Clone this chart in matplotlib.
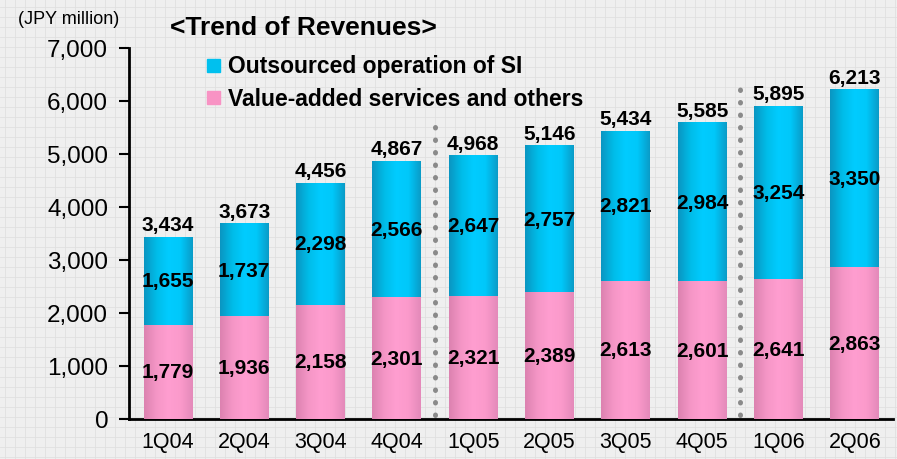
import numpy as np
import matplotlib
matplotlib.use("Agg")
import matplotlib.pyplot as plt
from matplotlib.colors import LinearSegmentedColormap

plt.rcParams['font.family'] = ['Liberation Sans', 'DejaVu Sans']

quarters = ['1Q04', '2Q04', '3Q04', '4Q04', '1Q05', '2Q05', '3Q05', '4Q05', '1Q06', '2Q06']
value_added = [1779, 1936, 2158, 2301, 2321, 2389, 2613, 2601, 2641, 2863]
outsourced = [1655, 1737, 2298, 2566, 2647, 2757, 2821, 2984, 3254, 3350]
totals = [3434, 3673, 4456, 4867, 4968, 5146, 5434, 5585, 5895, 6213]
yticks = [0, 1000, 2000, 3000, 4000, 5000, 6000, 7000]

W, H = 897, 460
fig = plt.figure(figsize=(W / 100, H / 100), dpi=100)
fig.patch.set_facecolor('#efefef')

# graph-paper background
bg = fig.add_axes([0, 0, 1, 1])
bg.set_xlim(0, W)
bg.set_ylim(H, 0)
bg.axis('off')
for g in np.arange(5, W, 10):
    bg.axvline(g, color='#e0e0e0', lw=0.6)
for g in np.arange(8, H, 10):
    bg.axhline(g, color='#e0e0e0', lw=0.6)

ax = fig.add_axes([129 / W, 1 - 420 / H, (893 - 129) / W, (420 - 49) / H])
ax.patch.set_alpha(0)

x = np.arange(len(quarters))
bw = 0.64
pink_cmap = LinearSegmentedColormap.from_list('p', ['#dc82b0', '#f596c6', '#ff9ed0', '#fb9acb', '#e48aba'])
cyan_cmap = LinearSegmentedColormap.from_list('c', ['#0a96c2', '#00bce8', '#00ccff', '#00c8fa', '#0a9cc8'])
grad = np.linspace(0, 1, 64).reshape(1, -1)

b1 = ax.bar(x, value_added, bw, color='#ff99cc', zorder=2)
b2 = ax.bar(x, outsourced, bw, bottom=value_added, color='#00ccff', zorder=2)
for bars, cmap in ((b1, pink_cmap), (b2, cyan_cmap)):
    for p in bars:
        x0, y0 = p.get_x(), p.get_y()
        ax.imshow(grad, cmap=cmap, aspect='auto', zorder=3, interpolation='bilinear',
                  extent=(x0, x0 + p.get_width(), y0, y0 + p.get_height()))

for i in range(len(quarters)):
    ax.text(x[i], value_added[i] / 2, f'{value_added[i]:,}', ha='center', va='center',
            fontsize=15, fontweight='bold', zorder=4)
    ax.text(x[i], value_added[i] + outsourced[i] / 2, f'{outsourced[i]:,}', ha='center',
            va='center', fontsize=15, fontweight='bold', zorder=4)
    ax.text(x[i], totals[i] + 60, f'{totals[i]:,}', ha='center', va='bottom',
            fontsize=15, fontweight='bold', zorder=4)

# year separators
ax.plot([3.5, 3.5], [80, 5720], ls=(0, (0.1, 2.4)), lw=3.6, color='#8a8a8a',
        dash_capstyle='round', zorder=1)
ax.plot([7.5, 7.5], [80, 6400], ls=(0, (0.1, 2.4)), lw=3.6, color='#8a8a8a',
        dash_capstyle='round', zorder=1)

ax.set_xlim(-0.51, 9.5)
ax.set_ylim(0, 7000)
ax.set_yticks(yticks)
ax.set_yticklabels([f'{v:,}' for v in yticks], fontsize=17.5)
ax.set_xticks(x)
ax.set_xticklabels(quarters, fontsize=15.5)
ax.tick_params(axis='x', length=0, pad=9)
ax.tick_params(axis='y', direction='out', length=7, width=1.5, pad=8)
for s in ('top', 'right'):
    ax.spines[s].set_visible(False)
for s in ('left', 'bottom'):
    ax.spines[s].set_linewidth(2)

fig.text(18 / W, 1 - 20 / H, '(JPY million)', fontsize=13, va='center', ha='left')
fig.text(170 / W, 1 - 28 / H, '<Trend of Revenues>', fontsize=19, fontweight='bold',
         va='center', ha='left')
bg.add_patch(plt.Rectangle((207, 60), 13, 13, color='#00c0ee', zorder=5))
bg.add_patch(plt.Rectangle((207, 92), 13, 13, color='#f893c4', zorder=5))
fig.text(228 / W, 1 - 67 / H, 'Outsourced operation of SI', fontsize=16.5, fontweight='bold',
         va='center', ha='left')
fig.text(228 / W, 1 - 99 / H, 'Value-added services and others', fontsize=16.5,
         fontweight='bold', va='center', ha='left')

fig.savefig('out.png', dpi=100, facecolor=fig.get_facecolor())
